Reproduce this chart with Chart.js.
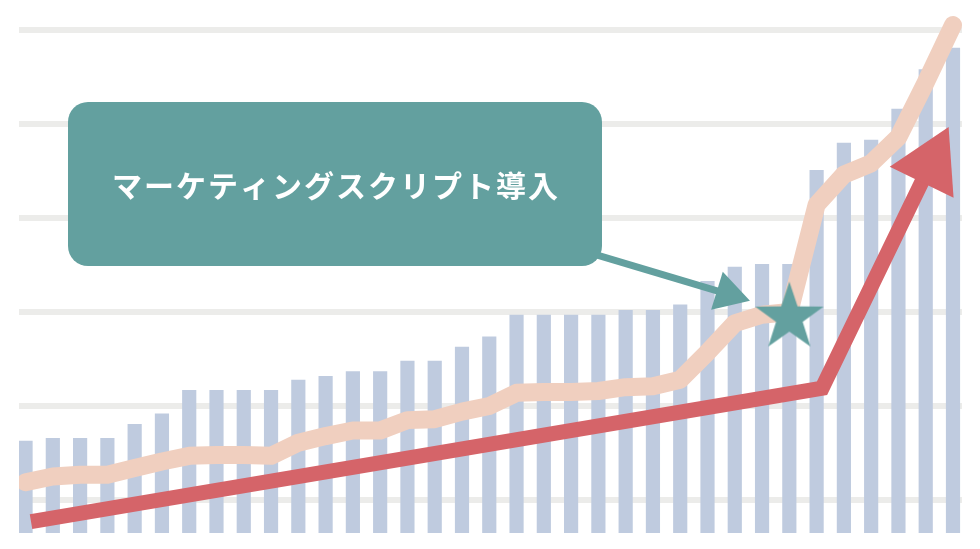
<!DOCTYPE html>
<html lang="ja">
<head>
<meta charset="utf-8">
<script src="https://cdn.jsdelivr.net/npm/chart.js@4/dist/chart.umd.min.js"></script>
<style>
  html, body { margin: 0; padding: 0; background: #fff; }
  #wrap { width: 980px; height: 549px; }
</style>
</head>
<body>
<div id="wrap"><canvas id="growthChart"></canvas></div>
<script>
// monthly totals (bars), one per month
const barValues = [
  163, 166, 166, 166, 181, 192, 217, 217, 217, 217,
  228, 232, 237, 237, 248, 248, 263, 274, 297, 297,
  297, 297, 302, 302, 308, 333, 348, 351, 351, 451,
  480, 483, 516, 558, 581
];
// pink trend line, same months
const trendValues = [
  119, 125, 127, 127, 134, 141, 147, 148, 148, 147,
  161, 168, 174, 174, 185, 186, 194, 200, 214, 215,
  215, 216, 220, 221, 228, 257, 288, 297, 300, 414,
  446, 458, 486, 544, 605
];
const gridValues = [100, 200, 300, 400, 500, 600];

// red growth arrow (month position, value)
const arrowX = [0.2, 29.2, 33.18];
const arrowY = [77, 219, 457.5];

// launch marker + pointer from the callout
const launchIndex = 28;
const launchValue = 294;
const pointerX = [20.9, 25.75];
const pointerY = [361, 319];
const calloutText = 'マーケティングスクリプト導入';

const BAR = '#bfcbdf';
const PINK = '#f0cfbf';
const RED = '#d56469';
const TEAL = '#63a09f';

// filled five point star, used as a point style
function makeStar(outer, inner, color) {
    const c = document.createElement('canvas');
    c.width = c.height = outer * 2 + 2;
    const g = c.getContext('2d');
    const cx = c.width / 2;
    g.fillStyle = color;
    g.beginPath();
    for (let i = 0; i < 10; i++) {
        const r = i % 2 ? inner : outer;
        const a = -Math.PI / 2 + i * Math.PI / 5;
        g.lineTo(cx + r * Math.cos(a), cx + r * Math.sin(a));
    }
    g.closePath();
    g.fill();
    return c;
}

const callout = {
    id: 'callout',
    afterDatasetsDraw(chart, args, opts) {
        const ctx = chart.ctx;
        ctx.save();
        ctx.fillStyle = opts.color;
        ctx.beginPath();
        ctx.roundRect(opts.left, opts.top, opts.width, opts.height, opts.radius);
        ctx.fill();
        ctx.fillStyle = '#fff';
        ctx.font = 'bold 30px "Noto Sans CJK JP"';
        ctx.letterSpacing = '2px';
        ctx.textAlign = 'center';
        ctx.textBaseline = 'middle';
        ctx.fillText(opts.text, opts.left + opts.width / 2 + 1, opts.top + opts.height / 2 + 2);
        ctx.restore();
    }
};

const xy = (xs, ys) => xs.map((x, i) => ({x: x, y: ys[i]}));

new Chart(document.getElementById('growthChart'), {
    type: 'bar',
    data: {
        datasets: [
            {
                type: 'line',
                data: xy(pointerX, pointerY),
                borderColor: TEAL,
                borderWidth: 7,
                pointStyle: 'triangle',
                pointRadius: [0, 23],
                pointRotation: 107,
                pointBackgroundColor: TEAL,
                pointBorderWidth: 0,
                clip: false,
                order: 1
            },
            {
                type: 'line',
                data: [{x: launchIndex, y: launchValue}],
                showLine: false,
                pointStyle: makeStar(36, 14, TEAL),
                pointRadius: 10,
                clip: false,
                order: 2
            },
            {
                type: 'line',
                data: xy(arrowX, arrowY),
                borderColor: RED,
                borderWidth: 15,
                borderJoinStyle: 'miter',
                pointStyle: 'triangle',
                pointRadius: [0, 0, 41],
                pointRotation: 26,
                pointBackgroundColor: RED,
                pointBorderWidth: 0,
                clip: false,
                order: 3
            },
            {
                type: 'line',
                data: trendValues.map((v, i) => ({x: i, y: v})),
                borderColor: PINK,
                borderWidth: 18,
                borderCapStyle: 'round',
                borderJoinStyle: 'round',
                tension: 0,
                pointRadius: 0,
                clip: {left: 0, right: 12, top: 20, bottom: 0},
                order: 4
            },
            {
                data: barValues.map((v, i) => ({x: i, y: v})),
                backgroundColor: BAR,
                borderWidth: 0,
                barPercentage: 0.52,
                categoryPercentage: 1,
                order: 5
            }
        ]
    },
    options: {
        responsive: true,
        maintainAspectRatio: false,
        animation: false,
        events: [],
        layout: {
            autoPadding: false,
            padding: {left: 19, right: 18, top: 10, bottom: 16}
        },
        plugins: {
            legend: {display: false},
            tooltip: {enabled: false},
            callout: {
                left: 68, top: 102, width: 534, height: 164, radius: 20,
                color: TEAL, text: calloutText
            }
        },
        scales: {
            x: {
                type: 'linear',
                min: -0.24,
                max: 34.33,
                offset: false,
                display: false
            },
            y: {
                min: 65,
                max: 621,
                afterBuildTicks: s => { s.ticks = gridValues.map(v => ({value: v})); },
                afterFit: s => { s.width = 0; },
                ticks: {display: false},
                border: {display: false},
                grid: {
                    color: '#ececea',
                    lineWidth: 6,
                    drawTicks: false
                }
            }
        }
    },
    plugins: [callout]
});
</script>
</body>
</html>
